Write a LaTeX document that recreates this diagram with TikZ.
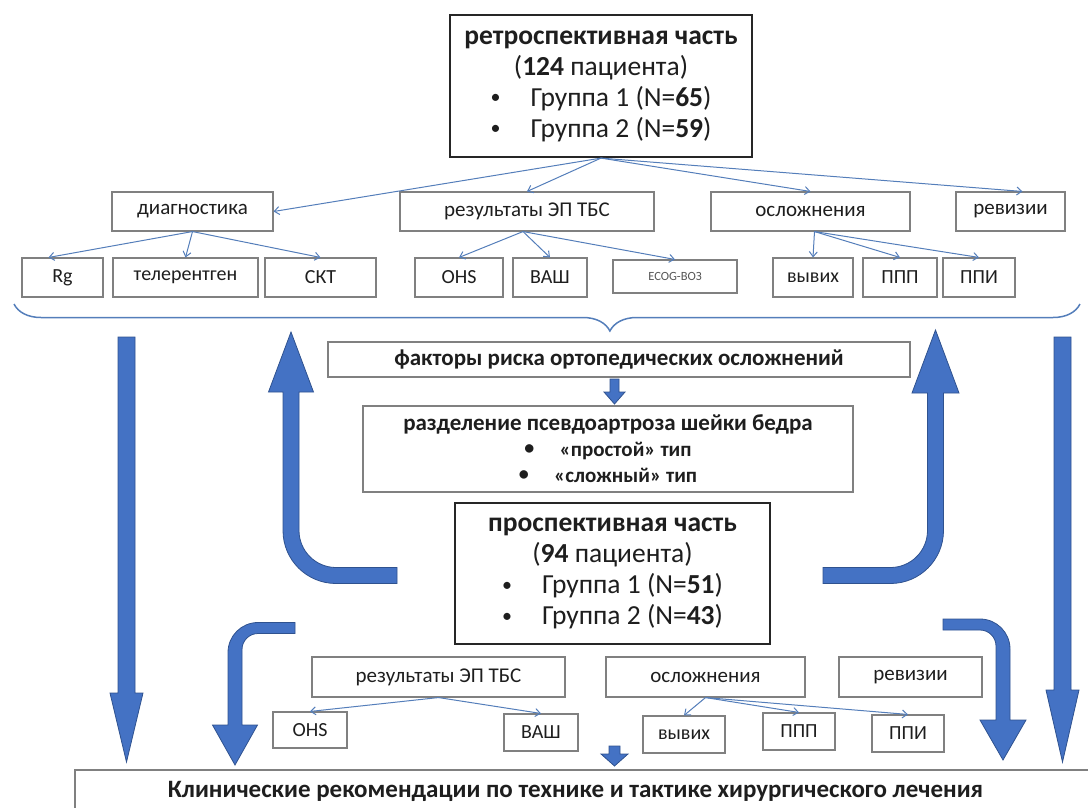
\documentclass[tikz,border=0pt]{standalone}
\usepackage{fontspec}
\setmainfont{Carlito}
\usetikzlibrary{arrows.meta,calc,decorations.pathreplacing}
\definecolor{bigblue}{RGB}{68,114,196}
\definecolor{bigedge}{RGB}{47,82,143}
\definecolor{thinblue}{RGB}{84,126,186}
\definecolor{boxgray}{RGB}{128,128,128}
\definecolor{ink}{RGB}{30,30,30}
\newcommand{\dotmark}{\raisebox{2.5pt}{\fontsize{20}{20}\selectfont\textbullet}}
\begin{document}
\begin{tikzpicture}[x=1pt,y=-1pt,
  cell/.style={draw=boxgray,line width=1.1pt,fill=white,text=ink,inner sep=0pt,align=center},
  mainbox/.style={draw=black!85,line width=2.2pt,fill=white,text=ink,inner sep=0pt,align=center,
    font=\fontsize{27.5}{31}\selectfont},
  lbltwo/.style={font=\fontsize{21}{24}\selectfont},
  lblthree/.style={font=\fontsize{20}{22}\selectfont},
  conn/.style={draw=thinblue,line width=1pt,-{Straight Barb[length=5pt,width=8pt]}},
  bigarrow/.style={fill=bigblue,draw=bigedge,line width=0.8pt,line join=miter}]
\useasboundingbox (0,0) rectangle (1088,807);
\clip (0,0) rectangle (1088,807);

% ---------- retrospective part ----------
\node[mainbox,minimum width=302,minimum height=142] (retro) at (601,86)
  {\textbf{ретроспективная часть}\\(\textbf{124} пациента)\\
   \dotmark\hspace{1.1em}Группа 1 (N=\textbf{65})\\
   \dotmark\hspace{1.1em}Группа 2 (N=\textbf{59})};

\node[cell,lbltwo,minimum width=161,minimum height=39] (dg)  at (192.5,211.5) {диагностика};
\node[cell,lbltwo,minimum width=254,minimum height=39] (rez) at (527,211.5)   {результаты ЭП ТБС};
\node[cell,lbltwo,minimum width=199,minimum height=39] (osl) at (810.5,211.5) {осложнения};
\node[cell,lbltwo,minimum width=109,minimum height=39] (rev) at (1010.5,211.5) {ревизии};

\node[cell,lblthree,minimum width=81,minimum height=39]  (rg)   at (62.5,277.5)  {Rg};
\node[cell,lblthree,minimum width=145,minimum height=39] (tel)  at (185.5,277.5) {телерентген};
\node[cell,lblthree,minimum width=111,minimum height=39] (skt)  at (320.5,277.5) {СКТ};
\node[cell,lblthree,minimum width=88,minimum height=39]  (ohs)  at (459,277.5)   {OHS};
\node[cell,lblthree,minimum width=74,minimum height=39]  (vas)  at (550,277.5)   {ВАШ};
\node[cell,font=\fontsize{12.5}{14}\selectfont,text=ink!75,minimum width=124,minimum height=33] (ecog) at (675,276.5) {ECOG-ВОЗ};
\node[cell,lblthree,minimum width=80,minimum height=39]  (vyv)  at (813,277.5)   {вывих};
\node[cell,lblthree,minimum width=74,minimum height=39]  (ppp)  at (900,277.5)   {ППП};
\node[cell,lblthree,minimum width=72,minimum height=39]  (ppi)  at (979,277.5)   {ППИ};

\draw[conn] (retro.south) -- (dg.east);
\draw[conn] (retro.south) -- (rez.north);
\draw[conn] (retro.south) -- (osl.north);
\draw[conn] (retro.south) -- ($(rev.north)+(12,0)$);

\draw[conn] (dg.south) -- ($(rg.north)+(-14,0)$);
\draw[conn] (dg.south) -- (tel.north);
\draw[conn] (dg.south) -- (skt.north);
\draw[conn] ($(rez.south)+(-4,0)$) -- (ohs.north);
\draw[conn] ($(rez.south)+(-4,0)$) -- (vas.north);
\draw[conn] ($(rez.south)+(-4,0)$) -- (ecog.north);
\draw[conn] ($(osl.south)+(4,0)$) -- (vyv.north);
\draw[conn] ($(osl.south)+(4,0)$) -- (ppp.north);
\draw[conn] ($(osl.south)+(4,0)$) -- (ppi.north);

% brace gathering the retrospective results
\draw[thinblue,line width=1.5pt,decorate,
  decoration={brace,mirror,amplitude=27pt,aspect=0.559}] (14,304) -- (1080,304);

% ---------- middle ----------
\node[cell,font=\bfseries\fontsize{23}{25}\selectfont,minimum width=582,minimum height=35] (fact) at (619,359.5)
  {факторы риска ортопедических осложнений};
\node[cell,font=\bfseries\fontsize{23}{26}\selectfont,minimum width=490,minimum height=86] (razd) at (608,449)
  {разделение псевдоартроза шейки бедра\\
   {\fontsize{21}{26}\selectfont\dotmark\hspace{1.2em}«простой» тип}\\
   {\fontsize{21}{26}\selectfont\dotmark\hspace{1.2em}«сложный» тип}};
\node[mainbox,minimum width=315,minimum height=141] (prosp) at (612.5,573.5)
  {\textbf{проспективная часть}\\(\textbf{94} пациента)\\
   \dotmark\hspace{1.1em}Группа 1 (N=\textbf{51})\\
   \dotmark\hspace{1.1em}Группа 2 (N=\textbf{43})};

% small block arrows
\fill[bigarrow] (610,379) -- (619,379) -- (619,392) -- (625,392) -- (614.5,404)
  -- (604,392) -- (610,392) -- cycle;
\fill[bigarrow] (609,746) -- (620,746) -- (620,754) -- (628,754) -- (614.5,766)
  -- (601,754) -- (609,754) -- cycle;

% ---------- prospective results ----------
\node[cell,lbltwo,minimum width=253,minimum height=40] (rezb) at (438.5,677) {результаты ЭП ТБС};
\node[cell,lbltwo,minimum width=199,minimum height=40] (oslb) at (705.5,677) {осложнения};
\node[cell,lbltwo,minimum width=143,minimum height=40] (revb) at (910.5,677) {ревизии};

\node[cell,lblthree,minimum width=74,minimum height=36] (ohsb) at (310,730)   {OHS};
\node[cell,lblthree,minimum width=74,minimum height=37] (vasb) at (541,732.5) {ВАШ};
\node[cell,lblthree,minimum width=82,minimum height=37] (vyvb) at (684,734.5) {вывих};
\node[cell,lblthree,minimum width=72,minimum height=37] (pppb) at (799,731.5) {ППП};
\node[cell,lblthree,minimum width=72,minimum height=37] (ppib) at (908,733.5) {ППИ};

\draw[conn] (rezb.south) -- (ohsb.north);
\draw[conn] (rezb.south) -- (vasb.north);
\draw[conn] (oslb.south) -- (vyvb.north);
\draw[conn] (oslb.south) -- (pppb.north);
\draw[conn] (oslb.south) -- (ppib.north);

% ---------- recommendations ----------
\node[cell,font=\bfseries\fontsize{25}{27}\selectfont,minimum width=1025,minimum height=42] (rec) at (587.5,791)
  {\hspace*{-24pt}\raisebox{3pt}{Клинические рекомендации по технике и тактике хирургического лечения}};

% ---------- big flow arrows ----------
% straight, left and right
\fill[bigarrow] (118,337) -- (135,337) -- (135,693) -- (143,693) -- (126.5,762)
  -- (110,693) -- (118,693) -- cycle;
\fill[bigarrow] (1054,337) -- (1071,337) -- (1071,690) -- (1079,690) -- (1062.5,762)
  -- (1046,690) -- (1054,690) -- cycle;
% bent, pointing up
\fill[bigarrow] (397,567.5) -- (336,567.5) .. controls (315.6,567.5) and (299,550.9) .. (299,530.5)
  -- (299,392) -- (313.5,392) -- (291,332) -- (268.5,392) -- (283,392) -- (283,530.5)
  .. controls (283,559.8) and (306.7,583.5) .. (336,583.5) -- (397,583.5) -- cycle;
\fill[bigarrow] (823,567.5) -- (890.5,567.5) .. controls (910.9,567.5) and (927.5,550.9) .. (927.5,530.5)
  -- (927.5,393) -- (912,393) -- (935.5,330) -- (959,393) -- (943.5,393) -- (943.5,530.5)
  .. controls (943.5,559.8) and (919.8,583.5) .. (890.5,583.5) -- (823,583.5) -- cycle;
% bent, pointing down
\fill[bigarrow] (295,622.5) -- (258,622.5) .. controls (241.4,622.5) and (228,635.9) .. (228,652.5)
  -- (228,725) -- (212.5,725) -- (235,765) -- (257.5,725) -- (242,725) -- (242,649.5)
  .. controls (242,640.7) and (249.2,633.5) .. (258,633.5) -- (295,633.5) -- cycle;
\fill[bigarrow] (943,619) -- (980,619) .. controls (996.6,619) and (1010,632.4) .. (1010,649)
  -- (1010,720) -- (1026,720) -- (1003,760) -- (980,720) -- (996,720) -- (996,646)
  .. controls (996,637.2) and (988.8,630) .. (980,630) -- (943,630) -- cycle;
\end{tikzpicture}
\end{document}
